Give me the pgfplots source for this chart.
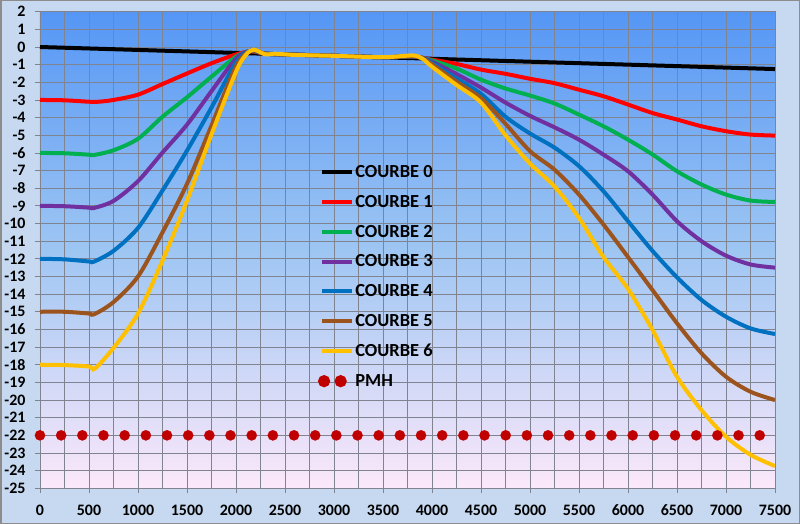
\documentclass[border=0pt]{standalone}
\usepackage{pgfplots}
\pgfplotsset{compat=1.18}
\usepackage{fontspec}
\setmainfont{Carlito}
\definecolor{outerbg}{RGB}{198,217,240}
\definecolor{framec}{RGB}{140,140,140}
\definecolor{gridc}{RGB}{128,132,145}
\definecolor{bgtop}{RGB}{85,150,245}
\definecolor{bgmid}{RGB}{158,198,243}
\definecolor{bgbot}{RGB}{252,232,250}
\definecolor{c1}{RGB}{255,0,0}
\definecolor{c2}{RGB}{0,176,80}
\definecolor{c3}{RGB}{112,48,160}
\definecolor{c4}{RGB}{0,112,192}
\definecolor{c5}{RGB}{156,84,30}
\definecolor{c6}{RGB}{255,192,0}
\definecolor{pmh}{RGB}{192,0,0}
\begin{document}
\begin{tikzpicture}
\useasboundingbox (0,0) rectangle (800bp,524bp);
\fill[outerbg] (0,0) rectangle (800bp,524bp);
\draw[framec, line width=1.5bp] (0.75bp,0.75bp) rectangle (799.25bp,523.25bp);
\begin{axis}[
  at={(40bp,35.7bp)}, anchor=south west,
  scale only axis, width=735bp, height=476.6bp,
  xmin=0, xmax=7500, ymin=-25, ymax=2,
  xtick={0,500,...,7500}, ytick={-25,-24,...,2},
  minor x tick num=1,
  scaled x ticks=false, scaled y ticks=false,
  /pgf/number format/set thousands separator={},
  /pgf/number format/assume math mode=true,
  grid=both,
  major grid style={draw=gridc, line width=0.8bp},
  minor grid style={draw=gridc, line width=0.8bp},
  axis line style={draw=gridc, line width=0.8bp},
  tick align=outside, tick pos=left,
  major tick length=5bp, minor tick length=0bp,
  tick style={draw=gridc, line width=0.8bp},
  ticklabel style={font=\fontsize{16}{18}\selectfont\bfseries},
  yticklabel style={xshift=-6bp},
  xticklabel style={yshift=-8bp},
  axis background/.style={top color=bgtop, bottom color=bgbot, middle color=bgmid},
  every axis plot/.append style={smooth, tension=0.5, line width=4bp},
  legend cell align=left,
  legend image code/.code={\draw[#1] (0bp,0bp) -- (30bp,0bp);},
  legend style={at={(0.374,0.684)}, anchor=north west, draw=none, fill=none,
    font=\fontsize{18.5}{20}\selectfont\bfseries, row sep=14.2bp, column sep=0bp,
    nodes={inner sep=1bp}},
]
\addplot[black] coordinates {(0,0) (1500,-0.25) (3000,-0.5) (4500,-0.75) (6000,-1.0) (7500,-1.25)};
\addlegendentry{COURBE 0}
\addplot[c1] coordinates {(0,-3) (250,-3.02) (500,-3.1) (600,-3.1) (750,-3.0) (1000,-2.7) (1250,-2.1) (1500,-1.5) (1750,-0.92) (2000,-0.42) (2150,-0.25) (2300,-0.38) (2500,-0.42) (3000,-0.5) (3500,-0.58) (3800,-0.53) (3900,-0.6) (4000,-0.72) (4250,-0.96) (4500,-1.28) (4750,-1.52) (5000,-1.8) (5250,-2.05) (5500,-2.42) (5750,-2.79) (6000,-3.26) (6250,-3.74) (6500,-4.11) (6750,-4.49) (7000,-4.77) (7250,-4.96) (7500,-5.02)};
\addlegendentry{COURBE 1}
\addplot[c2] coordinates {(0,-6) (250,-6.02) (500,-6.1) (550,-6.12) (750,-5.85) (1000,-5.2) (1250,-3.95) (1500,-2.85) (1750,-1.68) (2000,-0.55) (2150,-0.23) (2300,-0.38) (2500,-0.42) (3000,-0.5) (3500,-0.58) (3800,-0.53) (3900,-0.62) (4000,-0.76) (4250,-1.22) (4500,-1.85) (4750,-2.35) (5000,-2.75) (5250,-3.2) (5500,-3.83) (5750,-4.49) (6000,-5.25) (6250,-6.09) (6500,-7.04) (6750,-7.79) (7000,-8.36) (7250,-8.7) (7500,-8.78)};
\addlegendentry{COURBE 2}
\addplot[c3] coordinates {(0,-9) (250,-9.02) (500,-9.1) (550,-9.12) (750,-8.72) (1000,-7.6) (1250,-5.98) (1500,-4.4) (1750,-2.5) (2000,-0.66) (2150,-0.22) (2300,-0.38) (2500,-0.42) (3000,-0.5) (3500,-0.58) (3800,-0.53) (3900,-0.62) (4000,-0.83) (4250,-1.53) (4500,-2.3) (4750,-3.15) (5000,-3.9) (5250,-4.55) (5500,-5.25) (5750,-6.1) (6000,-7.04) (6250,-8.36) (6500,-9.87) (6750,-11.0) (7000,-11.82) (7250,-12.32) (7500,-12.5)};
\addlegendentry{COURBE 3}
\addplot[c4] coordinates {(0,-12) (250,-12.03) (500,-12.15) (550,-12.16) (750,-11.55) (1000,-10.25) (1250,-8.13) (1500,-5.87) (1750,-3.43) (2000,-0.88) (2150,-0.22) (2300,-0.38) (2500,-0.42) (3000,-0.5) (3500,-0.58) (3800,-0.53) (3900,-0.63) (4000,-0.9) (4250,-1.78) (4500,-2.65) (4750,-3.95) (5000,-4.9) (5250,-5.7) (5500,-6.75) (5750,-8.17) (6000,-9.87) (6250,-11.55) (6500,-13.05) (6750,-14.33) (7000,-15.28) (7250,-15.94) (7500,-16.26)};
\addlegendentry{COURBE 4}
\addplot[c5] coordinates {(0,-15) (250,-15.0) (500,-15.1) (550,-15.15) (750,-14.45) (1000,-13.0) (1250,-10.5) (1500,-7.75) (1750,-4.45) (2000,-1.1) (2150,-0.22) (2300,-0.38) (2500,-0.42) (3000,-0.5) (3500,-0.58) (3800,-0.53) (3900,-0.65) (4000,-0.98) (4250,-1.96) (4500,-2.9) (4750,-4.35) (5000,-5.9) (5250,-6.95) (5500,-8.36) (5750,-10.06) (6000,-11.9) (6250,-13.77) (6500,-15.65) (6750,-17.35) (7000,-18.68) (7250,-19.53) (7500,-20.0)};
\addlegendentry{COURBE 5}
\addplot[c6] coordinates {(0,-18) (250,-18.02) (500,-18.1) (560,-18.22) (750,-17.05) (1000,-15.1) (1250,-12.1) (1500,-8.7) (1750,-4.95) (2000,-1.4) (2100,-0.45) (2180,-0.15) (2300,-0.42) (2400,-0.38) (2600,-0.45) (3000,-0.5) (3500,-0.58) (3800,-0.48) (3900,-0.65) (4000,-1.12) (4250,-2.15) (4500,-3.15) (4750,-5.0) (5000,-6.6) (5250,-7.9) (5500,-9.68) (5750,-11.9) (6000,-13.7) (6250,-16.03) (6500,-18.68) (6750,-20.57) (7000,-22.08) (7250,-23.1) (7500,-23.74)};
\addlegendentry{COURBE 6}
\addplot[color=pmh, only marks, mark=*, mark size=5.2bp, mark options={fill=pmh, draw=pmh, line width=0.1bp},
  legend image code/.code={\fill[pmh] (1.7bp,0bp) circle (4bp); \fill[pmh] (18.3bp,0bp) circle (4bp);}]
  coordinates {(0,-22) (216,-22) (432,-22) (648,-22) (864,-22) (1080,-22) (1296,-22) (1512,-22) (1728,-22) (1944,-22) (2160,-22) (2376,-22) (2592,-22) (2808,-22) (3024,-22) (3240,-22) (3456,-22) (3672,-22) (3888,-22) (4104,-22) (4320,-22) (4536,-22) (4752,-22) (4968,-22) (5184,-22) (5400,-22) (5616,-22) (5832,-22) (6048,-22) (6264,-22) (6480,-22) (6696,-22) (6912,-22) (7128,-22) (7344,-22)};
\addlegendentry{PMH}
\end{axis}
\end{tikzpicture}
\end{document}
